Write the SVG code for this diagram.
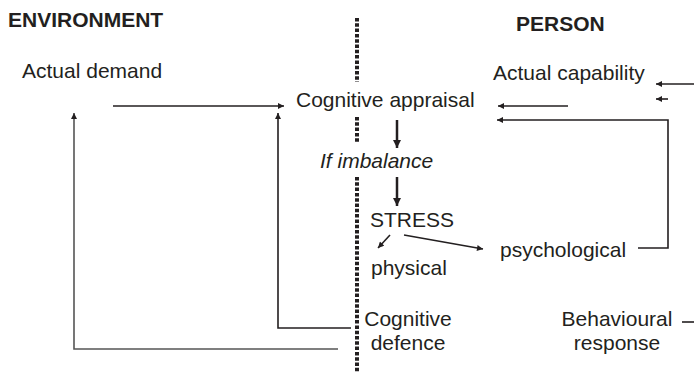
<svg xmlns="http://www.w3.org/2000/svg" width="694" height="372" viewBox="0 0 694 372">
  <defs>
    <marker id="ah" viewBox="0 0 10 10" refX="10" refY="5" markerWidth="8" markerHeight="6" markerUnits="userSpaceOnUse" orient="auto">
      <path d="M0,0 L10,5 L0,10 Z" fill="#231f20"/>
    </marker>
    <marker id="ahb" viewBox="0 0 10 10" refX="10" refY="5" markerWidth="9" markerHeight="8" markerUnits="userSpaceOnUse" orient="auto">
      <path d="M0,0 L10,5 L0,10 Z" fill="#231f20"/>
    </marker>
  </defs>
  <style>
    text { font-family: "Liberation Sans", Arial, sans-serif; font-size: 21px; fill: #231f20; }
    .hd { font-weight: bold; }
    .it { font-style: italic; }
    .mid { text-anchor: middle; }
    .ln { fill: none; stroke: #231f20; stroke-width: 1.6; }
    .thick { fill: none; stroke: #231f20; stroke-width: 2.5; }
    .grey { stroke: #555; }
    .divider { fill: none; stroke: #231f20; stroke-width: 4; stroke-dasharray: 3.5 1.8; }
  </style>
  <rect width="694" height="372" fill="#fff"/>

  <!-- boundary between environment and person -->
  <g id="divider">
    <line class="divider" x1="357" y1="18" x2="357" y2="82"/>
    <line class="divider" x1="357" y1="117" x2="357" y2="143"/>
    <line class="divider" x1="357" y1="177" x2="357" y2="372"/>
  </g>

  <g id="heading-environment"><text class="hd" x="8" y="27">ENVIRONMENT</text></g>
  <g id="heading-person"><text class="hd" x="516" y="31">PERSON</text></g>

  <g id="actual-demand"><text x="22" y="78">Actual demand</text></g>
  <g id="actual-capability"><text x="493" y="80">Actual capability</text></g>
  <g id="cognitive-appraisal"><text x="296" y="107">Cognitive appraisal</text></g>
  <g id="if-imbalance"><text class="it" x="320" y="168">If imbalance</text></g>
  <g id="stress"><text x="370" y="227">STRESS</text></g>
  <g id="physical"><text x="371" y="275">physical</text></g>
  <g id="psychological"><text x="500" y="257">psychological</text></g>
  <g id="cognitive-defence">
    <text class="mid" x="408" y="326">Cognitive</text>
    <text class="mid" x="408" y="350">defence</text>
  </g>
  <g id="behavioural-response">
    <text class="mid" x="617" y="326">Behavioural</text>
    <text class="mid" x="617" y="350">response</text>
  </g>

  <g id="connectors">
    <!-- demand into appraisal -->
    <line class="ln" x1="113" y1="106" x2="284" y2="106" marker-end="url(#ah)"/>
    <!-- capability into appraisal -->
    <line class="ln" x1="568" y1="106" x2="498" y2="106" marker-end="url(#ah)"/>
    <!-- external input to capability -->
    <line class="ln" x1="694" y1="84" x2="656" y2="84" marker-end="url(#ah)"/>
    <!-- appraisal to imbalance to stress -->
    <line class="thick" x1="397" y1="120" x2="397" y2="148" marker-end="url(#ahb)"/>
    <line class="thick" x1="397" y1="177" x2="397" y2="206" marker-end="url(#ahb)"/>
    <!-- stress outcomes -->
    <line class="ln" x1="390" y1="235" x2="378" y2="248" marker-end="url(#ah)"/>
    <line class="ln" x1="404" y1="235" x2="483" y2="249" marker-end="url(#ah)"/>
    <!-- psychological feedback loop -->
    <polyline class="ln" points="638,248 668,248 668,120 497,120" marker-end="url(#ah)"/>
    <polyline class="ln" points="668,99 656,99" marker-end="url(#ah)"/>
    <!-- cognitive defence loop -->
    <polyline class="ln" points="351,328 278,328 278,113" marker-end="url(#ah)"/>
    <!-- outer loop to actual demand -->
    <polyline class="ln grey" points="338,349 74,349 74,113" marker-end="url(#ah)"/>
    <!-- behavioural response -->
    <line class="ln" x1="682" y1="322" x2="694" y2="322"/>
  </g>
</svg>
